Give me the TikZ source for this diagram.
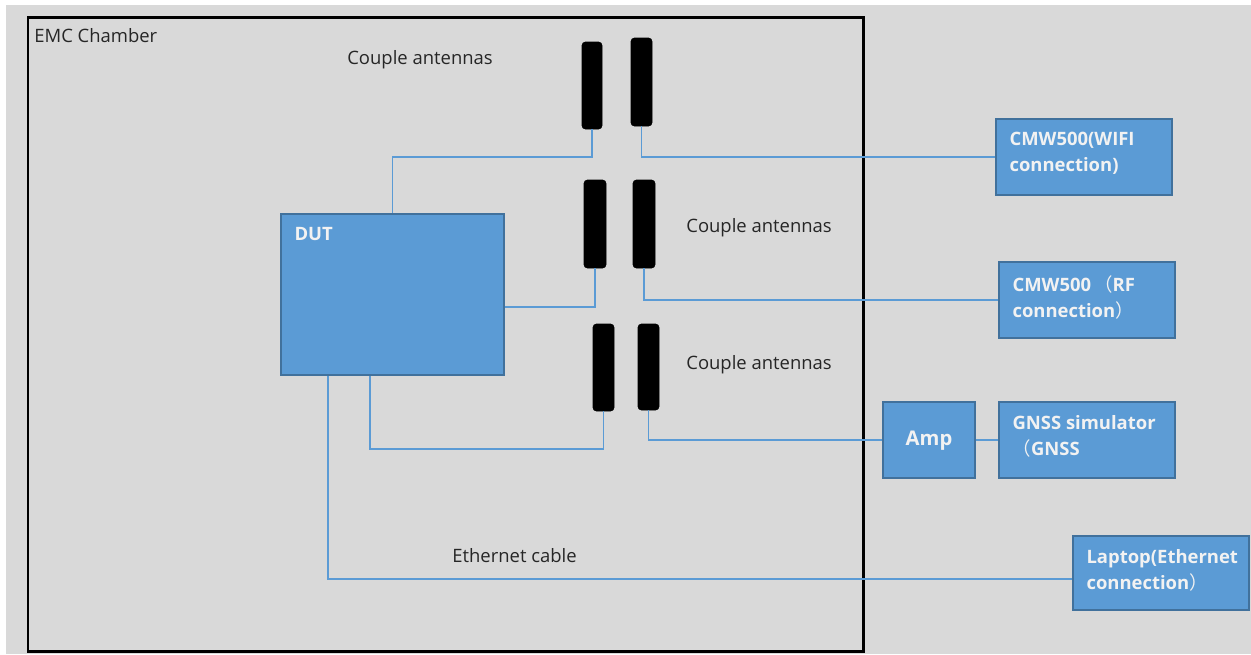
\documentclass[tikz,border=0pt]{standalone}
\usepackage{fontspec}
\setmainfont{Open Sans}
\newfontfamily\cjk{Noto Sans CJK SC}
\usetikzlibrary{fit,calc}
\definecolor{bg}{HTML}{D9D9D9}
\definecolor{boxfill}{HTML}{5B9BD5}
\definecolor{boxline}{HTML}{41719C}
\definecolor{wirec}{HTML}{5B9BD5}
\definecolor{txt}{HTML}{262626}
\definecolor{boxtxt}{HTML}{F2F2F2}
\tikzset{
  box/.style={draw=boxline, fill=boxfill, line width=0.9pt, inner sep=0pt},
  ant/.style={fill=black, draw=black, rounded corners=2pt, inner sep=0pt},
  wire/.style={draw=wirec, line width=1.1pt},
  lbl/.style={anchor=west, text=txt, font=\fontsize{10.5}{12}\selectfont, inner sep=0pt},
  btxt/.style={anchor=north west, text=boxtxt, align=left, inner sep=0pt,
    font=\fontsize{10.5}{14.8}\selectfont\bfseries},
}
\begin{document}
\begin{tikzpicture}[x=0.02cm, y=-0.02cm]
\useasboundingbox (0,0) rectangle (1251,654);
\fill[white] (0,0) rectangle (1251,654);
\fill[bg] (6,5) rectangle (1251,654);
% chamber
\node[draw=black, line width=1.7pt, inner sep=0pt, fit={(28,17) (863,651)}] (chamber) {};
\node[lbl] (chl) at (34,36) {EMC Chamber};
% antennas
\node[ant, fit={(582,42) (602,129)}] (a1l) {};
\node[ant, fit={(631,38) (652,126)}] (a1r) {};
\node[ant, fit={(584,180) (606,268)}] (a2l) {};
\node[ant, fit={(633,180) (655,268)}] (a2r) {};
\node[ant, fit={(593,324) (614,411)}] (a3l) {};
\node[ant, fit={(638,324) (659,410)}] (a3r) {};
\node[lbl] (c1) at (347,60) {Couple antennas};
\node[lbl] (c2) at (686,228) {Couple antennas};
\node[lbl] (c3) at (686,365) {Couple antennas};
\node[lbl] (eth) at (452,556) {Ethernet cable};
% boxes
\node[box, fit={(281,214) (504,375)}] (dut) {};
\node[box, fit={(996,119) (1172,195)}] (wifi) {};
\node[box, fit={(999,262) (1175,338)}] (rf) {};
\node[box, fit={(883,402) (975,478)}] (amp) {};
\node[box, fit={(999,402) (1175,478)}] (gnss) {};
\node[box, fit={(1073,536) (1249,610)}] (laptop) {};
\node[btxt] at ($(dut.north west)+(14,14)$) {DUT};
\node[btxt] at ($(wifi.north west)+(14,14)$) {CMW500(WIFI\\connection)};
\node[btxt] at ($(rf.north west)+(14,14)$) {CMW500\,{\cjk\mdseries （}RF\\connection{\cjk\mdseries ）}};
\node[btxt, anchor=center, font=\fontsize{11.5}{14}\selectfont\bfseries] at ($(amp.center)+(0,1)$) {Amp};
\node[btxt] at ($(gnss.north west)+(14,14)$) {GNSS simulator\\{\cjk\mdseries （}GNSS};
\node[btxt] at ($(laptop.north west)+(14,14)$) {Laptop(Ethernet\\connection{\cjk\mdseries ）}};
% wires
\draw[wire] (dut.north) -- (dut.north |- 0,157) -| (a1l.south);
\draw[wire] (a1r.south) |- (wifi.west);
\draw[wire] (dut.east |- 0,307) -| (a2l.south);
\draw[wire] (a2r.south) |- (rf.west);
\draw[wire] (dut.south -| 370,0) -- (370,449) -| (a3l.south);
\draw[wire] (a3r.south) |- (amp.west);
\draw[wire] (amp.east) -- (gnss.west);
\draw[wire] (dut.south -| 328,0) -- (328,579) -- (laptop.west |- 0,579);
\end{tikzpicture}
\end{document}
